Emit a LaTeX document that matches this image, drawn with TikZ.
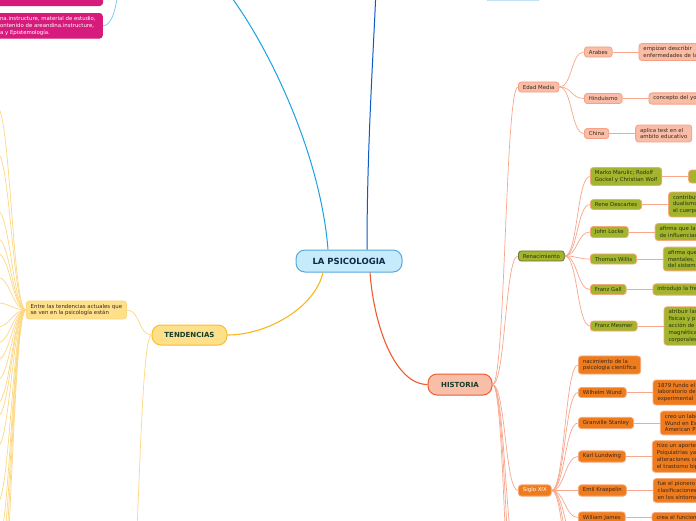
\documentclass[tikz,border=0pt]{standalone}
\usepackage{fontspec}
\setmainfont{DejaVu Sans}
\usepackage{xcolor}
\usepackage{tikz}
\usetikzlibrary{positioning, calc}
\definecolor{rootblue}{RGB}{198,236,252}
\definecolor{rootline}{RGB}{88,168,222}
\definecolor{rootink}{RGB}{14,40,72}
\definecolor{darkink}{RGB}{22,60,42}
\definecolor{brownink}{RGB}{60,40,28}
\definecolor{oliveink}{RGB}{44,50,16}
\definecolor{histfill}{RGB}{249,190,168}
\definecolor{histline}{RGB}{240,92,48}
\definecolor{tendfill}{RGB}{254,223,138}
\definecolor{tendline}{RGB}{252,190,44}
\definecolor{edadfill}{RGB}{249,188,166}
\definecolor{edadline}{RGB}{246,160,132}
\definecolor{olive}{RGB}{163,180,45}
\definecolor{olivedark}{RGB}{105,118,60}
\definecolor{sigfill}{RGB}{238,123,28}
\definecolor{sigline}{RGB}{246,168,122}
\definecolor{pinkfill}{RGB}{214,27,124}
\definecolor{cyanline}{RGB}{27,161,226}
\definecolor{navyline}{RGB}{10,90,200}
\definecolor{yelline}{RGB}{252,182,24}
\definecolor{paleyel}{RGB}{253,216,130}
\definecolor{salmonline}{RGB}{248,166,140}

\begin{document}
\begin{tikzpicture}[
  x=1pt, y=-1pt,
  node distance=26pt,
  box/.style={rectangle, rounded corners=3pt, draw, line width=0.8pt,
              inner xsep=4.5pt, inner ysep=3pt, align=left,
              font=\fontsize{5.4}{6.8}\selectfont},
  topic/.style={rectangle, rounded corners=9pt, draw, line width=1pt,
              inner xsep=2pt, text=darkink,
              font=\fontsize{7}{8}\selectfont\bfseries},
  edad/.style={box, fill=edadfill, draw=edadline, text=brownink},
  ren/.style={box, fill=olive, draw=sigline, text=oliveink},
  sig/.style={box, fill=sigfill, draw=sigline, text=brownink},
  cut/.style={text width=70pt},
  link/.style={draw=salmonline, line width=0.7pt},
  tlink/.style={draw=paleyel, line width=0.7pt}
]
\useasboundingbox (0,0) rectangle (696,520);
\fill[white] (0,0) rectangle (696,520);
\clip (0,0) rectangle (696,520);

% centre and main topics
\node[topic, fill=rootblue, draw=rootline, text=rootink, font=\fontsize{8.5}{9}\selectfont\bfseries,
      minimum width=106pt, minimum height=22pt] (psy) at (349,261) {LA PSICOLOGIA};
\node[topic, fill=histfill, draw=histline,
      minimum width=64pt, minimum height=21pt] (hist) at (460,384.5) {HISTORIA};
\node[topic, fill=tendfill, draw=tendline,
      minimum width=75pt, minimum height=20pt] (tend) at (189.5,335) {TENDENCIAS};

\coordinate (upleft) at (226,-10);
\coordinate (upmid)  at (376,-10);
\draw[cyanline, line width=1pt]  ($(psy.north)+(-21,0)$) .. controls +(-8,-100) and +(39,50) .. (upleft);
\draw[navyline, line width=1pt]  ($(psy.north)+(18,0)$)  .. controls +(0,-100) and +(-3,70) .. (upmid);
\draw[histline, line width=1.1pt] ($(psy.south)+(21,0)$) .. controls +(4,55) and +(-32,0) .. (hist.west);
\draw[yelline, line width=1.1pt]  ($(psy.south)+(-26,0)$) .. controls +(-8,35) and +(40,0) .. (tend.east);

% top left
\node[box, fill=pinkfill, draw=pinkfill, anchor=south east,
      minimum width=109pt, minimum height=20pt] (plat0) at (103,6) {};
\node[box, fill=pinkfill, draw=pinkfill, text=white, anchor=north west,
      minimum width=109pt] (plat) at (-7,13)
      {na.instructure, material de estudio,\\ontenido de areandina.instructure,\\a y Epistemología.};
\coordinate (plathub) at (119,-15);
\draw[cyanline!60, line width=0.7pt] (plathub) .. controls +(-3,25) and +(9,0) .. (plat.east);
\node[rectangle, rounded corners=3pt, draw=rootline!60, fill=rootblue,
      minimum width=56pt, minimum height=20pt] (topbox) at (513,-9.5) {};

% tendencias
\node[box, fill=tendfill, draw=tendline!60, text=brownink, anchor=east] (entre) at (127,310)
      {Entre las tendencias actuales que\\se ven en la psicología están};
\draw[tlink] (tend.west) .. controls +(-13,0) and +(13,0) .. (entre.east);
\coordinate (tdown) at (126,640);
\draw[tlink] (tend.west) .. controls +(-13,0) and +(13,0) .. (tdown);
\foreach \y [count=\i] in {107,153,210,238,253,277,303,327,343,360,380,403,417,447,503,545,575,610,650}
  \draw[tlink] (entre.west) .. controls +(-13,0) and +(13,0) .. (-3,\y) coordinate (trend\i);

% historia
\node[edad, anchor=west] (edad) at (518,87) {Edad Media};
\node[box, fill=olive, draw=olivedark, text=oliveink, anchor=west] (ren) at (518,256) {Renacimiento};
\node[box, fill=sigfill, draw=sigline, text=white, anchor=west] (sig) at (518,490.5) {Siglo XIX};
\coordinate (hist4) at (518,560);
\coordinate (hist5) at (518,610);
\coordinate (hist6) at (518,680);
\foreach \n in {edad.west, ren.west, sig.west, hist4, hist5, hist6}
  \draw[link] (hist.east) .. controls +(13,0) and +(-13,0) .. (\n);

% edad media
\node[edad, anchor=west] (arabes) at (584,52)   {Arabes};
\node[edad, anchor=west] (hindu)  at (584,98.5) {Hinduismo};
\node[edad, anchor=west] (china)  at (584,133.5){China};
\node[edad, cut, right=of arabes] (arabesd) {empizan describir\\enfermedades de la};
\node[edad, cut, right=of hindu]  (hindud)  {concepto del yo};
\node[edad, right=of china]       (chinad)  {aplica test en el\\ambito educativo};

% renacimiento
\node[ren, anchor=west] (marko)     at (590,176.5) {Marko Marulic; Rodolf\\Gockel y Christian Wolf};
\node[ren, anchor=west] (descartes) at (590,204.5) {Rene Descartes};
\node[ren, anchor=west] (locke)     at (590,232)   {John Locke};
\node[ren, anchor=west] (willis)    at (590,259)   {Thomas Willis};
\node[ren, anchor=west] (gall)      at (590,289.5) {Franz Gall};
\node[ren, anchor=west] (mesmer)    at (590,326)   {Franz Mesmer};
\node[ren, cut, minimum height=13pt, right=of marko] (markod) {};
\node[ren, cut, right=of descartes] (descartesd) {contribuy\\dualismo\\el cuerpo};
\node[ren, cut, right=of locke]     (locked)     {afirma que la\\de influencias};
\node[ren, cut, right=of willis]    (willisd)    {afirma que\\mentales,\\del sistema};
\node[ren, cut, right=of gall]      (galld)      {introdujo la fre};
\node[ren, cut, right=of mesmer]    (mesmerd)    {atribuir las\\fisicas y p\\acción de e\\magnética\\corporales};

% siglo XIX
\node[sig, anchor=west] (nac)     at (578,365)   {nacimiento de la\\psicologia cientifica};
\node[sig, anchor=west] (wund)    at (578,392.5) {Wilhelm Wund};
\node[sig, anchor=west] (stanley) at (578,423)   {Granville Stanley};
\node[sig, anchor=west] (lund)    at (578,456.5) {Karl Lundwing};
\node[sig, anchor=west] (kraep)   at (578,490.5) {Emil Kraepelin};
\node[sig, anchor=west] (james)   at (578,517.5) {William James};
\node[sig, cut, right=of wund]    (wundd)    {1879 fundo el\\laboratorio de\\experimental};
\node[sig, cut, right=of stanley] (stanleyd) {creo un labo\\Wund en Es\\American P};
\node[sig, cut, right=of lund]    (lundd)    {hizo un aporte\\Psiquiatrias ya\\alteraciones co\\el trastorno bip};
\node[sig, cut, right=of kraep]   (kraepd)   {fue el pionero\\clasificaciones\\en los síntoma};
\node[sig, cut, right=of james]   (jamesd)   {crea el funcion};
\coordinate (sig7) at (578,545);
\coordinate (sig8) at (578,575);
\coordinate (sig9) at (578,610);

\foreach \n in {arabes, hindu, china}
  \draw[link] (edad.east) .. controls +(13,0) and +(-13,0) .. (\n.west);
\foreach \n in {marko, descartes, locke, willis, gall, mesmer}
  \draw[link] (ren.east) .. controls +(13,0) and +(-13,0) .. (\n.west);
\foreach \n in {nac.west, wund.west, stanley.west, lund.west, kraep.west, james.west, sig7, sig8, sig9}
  \draw[link] (sig.east) .. controls +(13,0) and +(-13,0) .. (\n);
\foreach \n in {arabes, hindu, china, marko, descartes, locke, willis, gall, mesmer,
                wund, stanley, lund, kraep, james}
  \draw[link] (\n.east) -- (\n d.west);
\end{tikzpicture}
\end{document}
